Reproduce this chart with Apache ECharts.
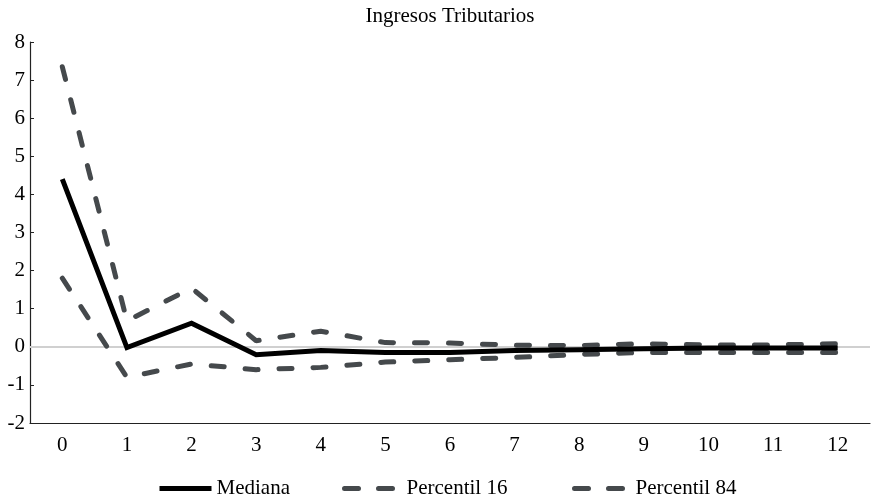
<!DOCTYPE html>
<html>
<head>
<meta charset="utf-8">
<script src="https://cdn.jsdelivr.net/npm/echarts@6/dist/echarts.min.js"></script>
<style>html,body{margin:0;padding:0;background:#fff;}#c{width:871px;height:500px;}</style>
</head>
<body>
<div id="c"></div>
<script>
var categories = ['0','1','2','3','4','5','6','7','8','9','10','11','12'];
var mediana = [4.4, -0.02, 0.62, -0.21, -0.1, -0.15, -0.15, -0.1, -0.08, -0.05, -0.03, -0.03, -0.03];
var percentil16 = [1.8, -0.8, -0.45, -0.6, -0.54, -0.4, -0.34, -0.28, -0.2, -0.15, -0.15, -0.15, -0.15];
var percentil84 = [7.35, 0.68, 1.54, 0.16, 0.41, 0.11, 0.1, 0.04, 0.03, 0.08, 0.05, 0.05, 0.08];
var seriesNames = ['Mediana', 'Percentil 16', 'Percentil 84'];
var titleText = 'Ingresos Tributarios';

var font = 'Liberation Serif';
var dashColor = '#45494c';
var fs = 21;
function mkLegend(name, left, pad, dashed) {
  var item = {name: name, textStyle: {padding: [0, 0, 0, pad]}};
  item.lineStyle = dashed ? {type: [14, 20], cap: 'round', width: 5} : {type: 'solid', width: 5};
  return {
    left: left, top: 473, itemWidth: 52, itemHeight: 14,
    itemStyle: {opacity: 0},
    textStyle: {fontFamily: font, fontSize: fs, color: '#000'},
    data: [item]
  };
}
var chart = echarts.init(document.getElementById('c'));
chart.setOption({
  animation: false,
  backgroundColor: '#fff',
  title: {
    text: titleText, left: 445, textAlign: 'center', top: 1,
    textStyle: {fontFamily: font, fontSize: fs, fontWeight: 'normal', color: '#000'}
  },
  grid: {left: 30, right: 1, top: 42, bottom: 77, containLabel: false},
  legend: [
    mkLegend(seriesNames[0], 152, 0, false),
    mkLegend(seriesNames[1], 337, 5, true),
    mkLegend(seriesNames[2], 567, 4, true)
  ],
  xAxis: {
    type: 'category', data: categories, boundaryGap: true,
    axisLine: {onZero: false, lineStyle: {color: '#222', width: 1.2}},
    axisTick: {show: false},
    axisLabel: {fontFamily: font, fontSize: fs, color: '#000', margin: 12},
    splitLine: {show: false}
  },
  yAxis: {
    type: 'value', min: -2, max: 8, interval: 1,
    axisLine: {show: true, lineStyle: {color: '#222', width: 1.2}},
    axisTick: {show: true, inside: true, length: 4, lineStyle: {color: '#222'}},
    axisLabel: {fontFamily: font, fontSize: fs, color: '#000', margin: 5},
    splitLine: {show: false}
  },
  series: [
    {
      name: seriesNames[0], type: 'line', data: mediana, symbol: 'none', z: 5,
      lineStyle: {color: '#000', width: 5, cap: 'butt', join: 'miter'},
      itemStyle: {color: '#000'},
      markLine: {
        silent: true, symbol: 'none', label: {show: false}, z: 1,
        lineStyle: {color: '#d0d0d0', width: 2, type: 'solid'},
        data: [{yAxis: 0}]
      }
    },
    {
      name: seriesNames[1], type: 'line', data: percentil16, symbol: 'none', z: 4,
      lineStyle: {color: dashColor, width: 5, type: [13, 21], cap: 'round'},
      itemStyle: {color: dashColor}
    },
    {
      name: seriesNames[2], type: 'line', data: percentil84, symbol: 'none', z: 4,
      lineStyle: {color: dashColor, width: 5, type: [13, 21], cap: 'round'},
      itemStyle: {color: dashColor}
    }
  ]
});
</script>
</body>
</html>
